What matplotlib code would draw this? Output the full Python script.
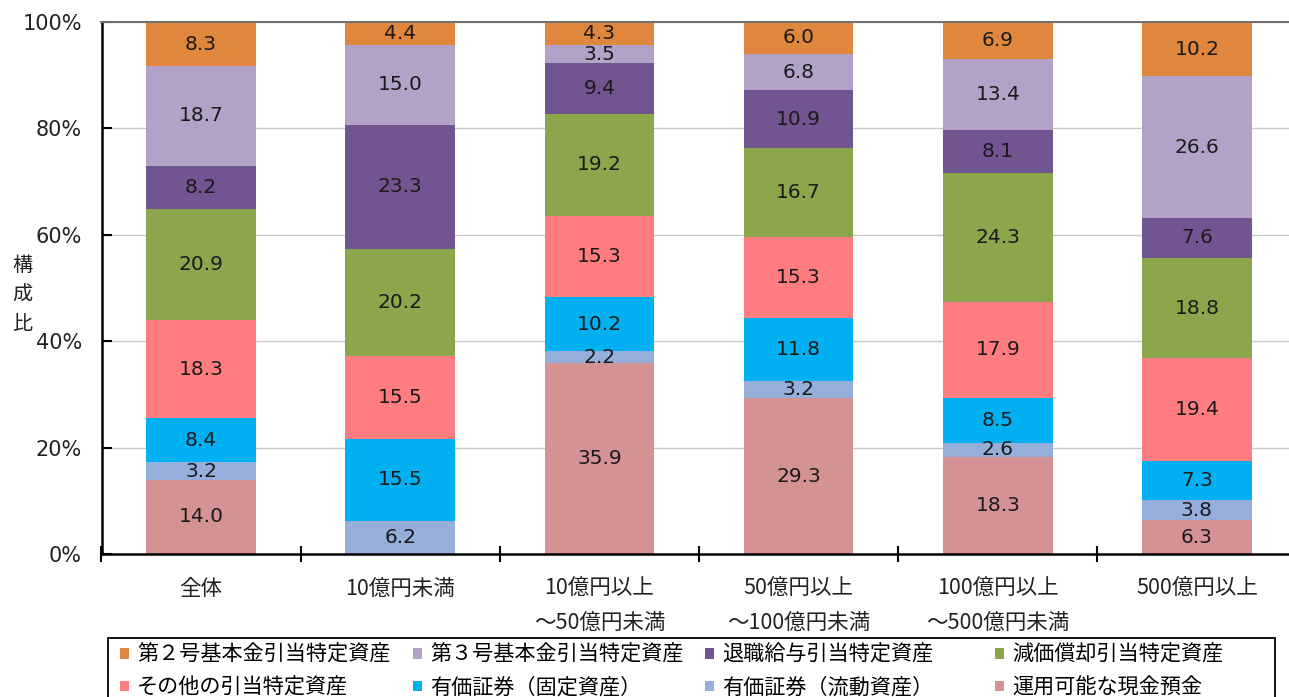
import matplotlib
matplotlib.use("Agg")
import matplotlib.pyplot as plt
from matplotlib.patches import Rectangle, Patch
from matplotlib.ticker import FixedLocator
import numpy as np

plt.rcParams['font.family'] = ['DejaVu Sans', 'Noto Sans CJK JP']

categories = ['全体', '10億円未満', '10億円以上\n～50億円未満', '50億円以上\n～100億円未満',
              '100億円以上\n～500億円未満', '500億円以上']

# series, bottom to top
series_names = ['運用可能な現金預金', '有価証券（流動資産）', '有価証券（固定資産）', 'その他の引当特定資産',
                '減価償却引当特定資産', '退職給与引当特定資産', '第３号基本金引当特定資産', '第２号基本金引当特定資産']
cash = [14.0, 0.0, 35.9, 29.3, 18.3, 6.3]
sec_current = [3.2, 6.2, 2.2, 3.2, 2.6, 3.8]
sec_fixed = [8.4, 15.5, 10.2, 11.8, 8.5, 7.3]
other = [18.3, 15.5, 15.3, 15.3, 17.9, 19.4]
depreciation = [20.9, 20.2, 19.2, 16.7, 24.3, 18.8]
retirement = [8.2, 23.3, 9.4, 10.9, 8.1, 7.6]
fund3 = [18.7, 15.0, 3.5, 6.8, 13.4, 26.6]
fund2 = [8.3, 4.4, 4.3, 6.0, 6.9, 10.2]
series_values = [cash, sec_current, sec_fixed, other, depreciation, retirement, fund3, fund2]
colors = ['#D49294', '#95AEDA', '#00B0F0', '#FF7C80', '#8BA64B', '#705590', '#B3A2C7', '#E0873D']

W, H = 1289, 697
fig = plt.figure(figsize=(W / 100, H / 100), dpi=100)
ax = fig.add_axes([101.5 / W, 1 - 554 / H, 1195 / W, 532 / H])

x = np.arange(len(categories))
bottom = np.zeros(len(categories))
handles = []
for name, vals, col in zip(series_names, series_values, colors):
    v = np.array(vals)
    bars = ax.bar(x, v, width=0.55, bottom=bottom, color=col, label=name, zorder=2)
    for xi, b, val in zip(x, bottom, v):
        if val > 0:
            ax.text(xi, b + val / 2, f'{val:.1f}', ha='center', va='center',
                    fontsize=14.5, color='#1a1a1a', zorder=3)
    handles.append(Patch(facecolor=col, edgecolor='none'))
    bottom = bottom + v

ax.set_xlim(-0.5, len(categories) - 0.5)
ax.set_ylim(0, 100)
ax.set_yticks([0, 20, 40, 60, 80, 100])
ax.set_yticklabels(['0%', '20%', '40%', '60%', '80%', '100%'])
ax.yaxis.grid(True, color='#C8C8C8', lw=1.0, zorder=0)
ax.set_axisbelow(True)

ax.set_xticks(x)
ax.set_xticklabels(categories, fontfamily=['Noto Sans CJK JP'], fontsize=15.5, linespacing=1.75,
                   color='#222222')
ax.xaxis.set_minor_locator(FixedLocator(np.arange(-0.5, len(categories), 1.0)))
ax.tick_params(axis='x', which='major', length=0, pad=17)
ax.tick_params(axis='x', which='minor', direction='inout', length=11, width=1.5, color='black')
ax.tick_params(axis='y', direction='in', length=7, width=1.5, color='black', labelsize=15, pad=14,
               labelcolor='#222222')

for s in ['left', 'bottom']:
    ax.spines[s].set_linewidth(1.8)
    ax.spines[s].set_color('black')
ax.spines['right'].set_visible(False)
ax.spines['top'].set_color('#6F6F6F')
ax.spines['top'].set_linewidth(1.4)

fig.text(22 / W, 1 - 295 / H, '構\n成\n比', ha='center', va='center', fontsize=14.5,
         fontfamily=['Noto Sans CJK JP'], linespacing=1.55, color='#222222')

# legend: 4 columns, each 2 rows (series indices from the top)
col_x = [120, 413, 705, 995]
for k, cx in enumerate(col_x):
    idx = [7 - k, 3 - k]
    fig.legend([handles[i] for i in idx], [series_names[i] for i in idx],
               loc='upper left', bbox_to_anchor=(cx / W, 1 - 644 / H),
               frameon=False, borderpad=0, borderaxespad=0,
               handlelength=0.42, handleheight=0.42, handletextpad=0.4,
               labelspacing=0.5, prop={'family': ['Noto Sans CJK JP'], 'size': 15.2})

fig.add_artist(Rectangle((108 / W, -0.02), (1275 - 108) / W, (697 - 638) / H + 0.02,
                         transform=fig.transFigure, fill=False, ec='black', lw=1.3))

fig.savefig('out.png', dpi=100)
